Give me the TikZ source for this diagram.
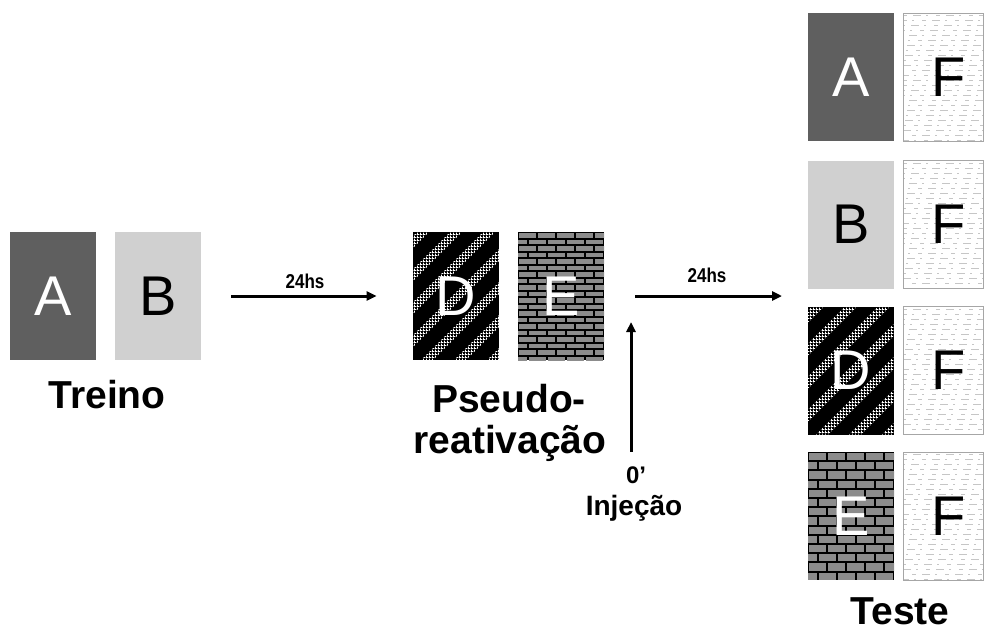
\documentclass[tikz,border=0pt]{standalone}
\usepackage{fontspec}
\setmainfont{Liberation Sans}
\usepackage{graphicx}
\usetikzlibrary{arrows.meta,patterns}

% fine white grid used inside the stripes
\pgfdeclarepatternformonly{finegrid}{\pgfpointorigin}{\pgfqpoint{1.5pt}{1.5pt}}{\pgfqpoint{1.5pt}{1.5pt}}{%
  \pgfpathrectangle{\pgfpointorigin}{\pgfqpoint{1.5pt}{0.5pt}}%
  \pgfpathrectangle{\pgfpointorigin}{\pgfqpoint{0.5pt}{1.5pt}}%
  \pgfusepath{fill}}

\definecolor{darkbox}{HTML}{5F5F5F}
\definecolor{lightbox}{HTML}{D0D0D0}
\definecolor{brick}{HTML}{8C8C8C}

% backgrounds of the textured contexts, given by their centre (x,y)
\newcommand{\stripefill}[2]{%
  \begin{scope}
    \clip (#1-43,#2-64) rectangle (#1+43,#2+64);
    \fill[black] (#1-43,#2-64) rectangle (#1+43,#2+64);
    \foreach \k in {-5,...,3}
      \fill[pattern=finegrid, pattern color=white]
        (#1-35+\k*33,#2+64) -- ++(12,0) -- ++(128,-128) -- ++(-12,0) -- cycle;
  \end{scope}}
\newcommand{\brickfill}[3]{% #3 = row height
  \begin{scope}
    \clip (#1-43,#2-64) rectangle (#1+43,#2+64);
    \fill[black] (#1-43,#2-64) rectangle (#1+43,#2+64);
    \foreach \r in {0,...,20} {
      \pgfmathsetmacro\brickoff{mod(\r,2)*9.5}
      \foreach \c in {-1,...,5}
        \fill[brick] (#1-43+\c*19+\brickoff+1,#2-64+\r*#3+1) rectangle ++(17,#3-2);
    }
  \end{scope}}
\newcommand{\fabricfill}[2]{%
  \begin{scope}
    \clip (#1-40,#2-64) rectangle (#1+40,#2+64);
    \foreach \r in {0,...,25} {
      \pgfmathsetmacro\fph{mod(\r*7,13)}
      \draw[gray!45, line width=0.5pt, dash pattern=on 2pt off 3pt on 4pt off 2.5pt on 1pt off 4pt,
        dash phase=\fph pt] (#1-40,#2-64+\r*5+2.5) -- (#1+40,#2-64+\r*5+2.5);
    }
  \end{scope}}

\tikzset{
  ctx/.style={rectangle, inner sep=0pt, minimum width=43pt, minimum height=64pt,
    font=\fontsize{28}{30}\selectfont},
  ctxa/.style={ctx, fill=darkbox, text=white},
  ctxb/.style={ctx, fill=lightbox},
  ctxd/.style={ctx, text=white},
  ctxf/.style={ctx, minimum width=40pt, draw=gray!70, line width=0.5pt},
  lbl/.style={inner sep=0pt, font=\fontsize{19.5}{21}\selectfont\bfseries},
  hrs/.style={inner sep=1pt, font=\fontsize{10}{12}\selectfont\bfseries},
  flow/.style={line width=1.5pt, -{Triangle[length=5pt,width=4.5pt]}}
}

\begin{document}
\begin{tikzpicture}[x=0.5pt,y=-0.5pt]
  \useasboundingbox (0,0) rectangle (985,631);

  % Textures
  \stripefill{456}{296}
  \brickfill{561}{296}{6.5}
  \stripefill{851}{370.5}
  \brickfill{851}{516}{9.2}
  \foreach \y in {77.5,224.5,370.5,516} {\fabricfill{943}{\y}}

  % Nodes
  \node[ctxa] (a1) at (53,296) {A};
  \node[ctxb] (b1) at (158,296) {B};
  \node[lbl, anchor=base] (treino) at (107,408) {Treino};

  \node[ctxd] (d1) at (456,296) {D};
  \node[ctxd] (e1) at (561,296) {E};
  \node[lbl, anchor=base] (pseudo) at (509,412) {Pseudo-};
  \node[lbl, anchor=base] (reativ) at (510,453) {reativação};

  \node[ctxa] (a2) at (851,77.5) {A};
  \node[ctxb] (b2) at (851,224.5) {B};
  \node[ctxd] (d2) at (851,370.5) {D};
  \node[ctxd] (e2) at (851,516) {E};
  \node[ctxf] (f1) at (943,77.5) {\hspace*{6pt}F};
  \node[ctxf] (f2) at (943,224.5) {\hspace*{6pt}F};
  \node[ctxf] (f3) at (943,370.5) {\hspace*{6pt}F};
  \node[ctxf] (f4) at (943,516) {\hspace*{6pt}F};
  \node[lbl, anchor=base] (teste) at (900,624) {Teste};

  \node[hrs, anchor=base] (h1) at (305,288) {\scalebox{0.85}[1]{24hs}};
  \node[hrs, anchor=base] (h2) at (707,282) {\scalebox{0.85}[1]{24hs}};
  \node[hrs, font=\fontsize{12}{14}\selectfont\bfseries, anchor=base] (zero) at (636,483) {0’};
  \node[hrs, font=\fontsize{14}{16}\selectfont\bfseries, anchor=base] (injecao) at (634,515) {Injeção};
  \coordinate (t0) at (782,296);
  \coordinate (inj) at (631,322);

  % Edges
  \draw[flow, shorten <=15pt, shorten >=18pt] (b1) -- (d1);
  \draw[flow, shorten <=15.5pt] (e1) -- (t0);
  \draw[flow, shorten <=6pt] (zero.north -| inj) -- (inj);
\end{tikzpicture}
\end{document}
